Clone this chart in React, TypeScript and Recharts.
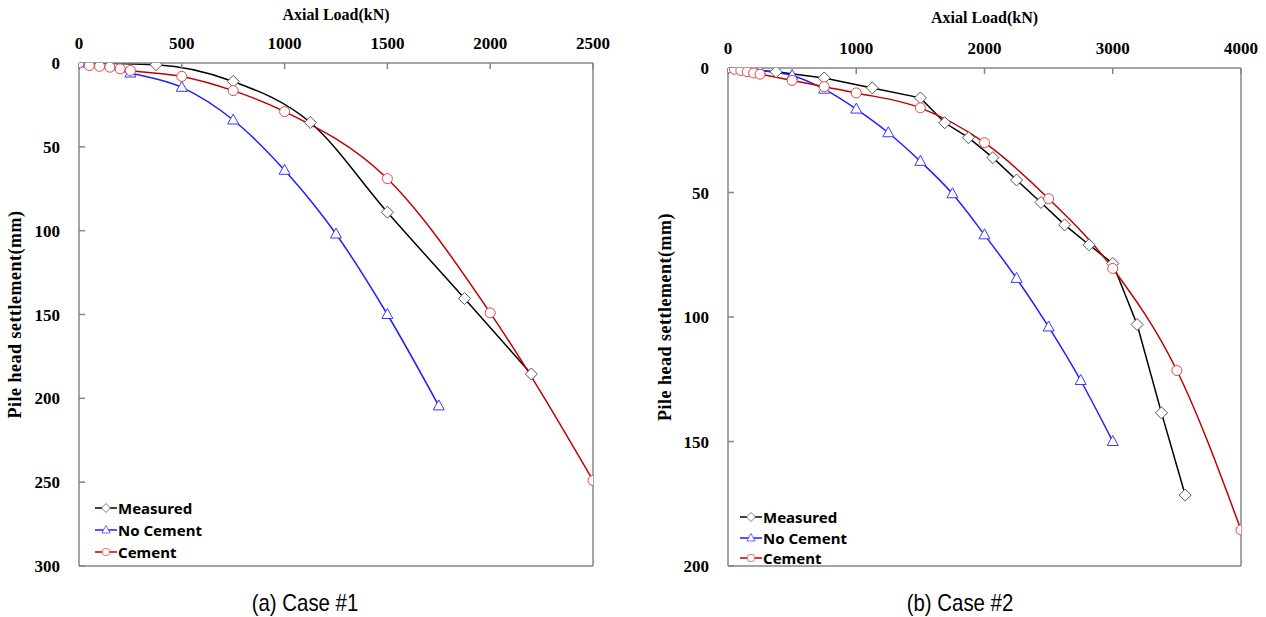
import { Legend, Line, LineChart, ReferenceLine, XAxis, YAxis } from "recharts";

// Case #1 — axial load (kN) vs pile head settlement (mm)
const measured1Load = [0, 375, 750, 1125, 1500, 1875, 2200];
const measured1Settle = [0, 1, 11, 35.5, 89, 140.5, 185.5];
const noCement1Load = [0, 250, 500, 750, 1000, 1250, 1500, 1750];
const noCement1Settle = [0, 6, 14.5, 34, 64, 102, 150, 204.5];
const cement1Load = [0, 50, 100, 150, 200, 250, 500, 750, 1000, 1500, 2000, 2500];
const cement1Settle = [0, 1.5, 2, 2.5, 3.5, 4.5, 8, 16.5, 29, 69, 149, 249];

// Case #2
const measured2Load = [0, 375, 750, 1125, 1500, 1690, 1875, 2065, 2250, 2440, 2625, 2815, 3000, 3190, 3380, 3565];
const measured2Settle = [0, 1.5, 4, 8, 12, 22, 28, 36, 45, 54, 63, 71, 78.5, 103, 138.5, 171.5];
const noCement2Load = [0, 250, 500, 750, 1000, 1250, 1500, 1750, 2000, 2250, 2500, 2750, 3000];
const noCement2Settle = [0, 1, 3, 8.5, 16.5, 26, 37.5, 50.5, 67, 84.5, 104, 125.5, 150];
const cement2Load = [0, 50, 100, 150, 200, 250, 500, 750, 1000, 1500, 2000, 2500, 3000, 3500, 4000];
const cement2Settle = [0, 0.5, 1, 1.5, 2, 2.5, 5, 7.5, 10, 16, 30, 52.5, 80.5, 121.5, 185.5];

const xTicks1 = [0, 500, 1000, 1500, 2000, 2500];
const yTicks1 = [0, 50, 100, 150, 200, 250, 300];
const xTicks2 = [0, 1000, 2000, 3000, 4000];
const yTicks2 = [0, 50, 100, 150, 200];

const seriesOrder = ["Measured", "No Cement", "Cement"];

const zip = (xs: number[], ys: number[]) => xs.map((load, i) => ({ load, s: ys[i] }));

const AXIS = "#868686";
const tickFont = { fontFamily: "Liberation Serif", fontWeight: 700, fontSize: 17, fill: "#000" };
const titleFont = { fontFamily: "Liberation Serif", fontWeight: 700, fontSize: 16, fill: "#000" };

type Marker = "diamond" | "triangle" | "circle";

function MarkerShape({ kind, cx, cy }: { kind: Marker; cx: number; cy: number }) {
  if (kind === "diamond")
    return (
      <path
        d={`M${cx},${cy - 6}L${cx + 6},${cy}L${cx},${cy + 6}L${cx - 6},${cy}Z`}
        fill="#fff"
        stroke="#555"
        strokeWidth={1}
      />
    );
  if (kind === "triangle")
    return (
      <path
        d={`M${cx},${cy - 6}L${cx + 5.5},${cy + 4}L${cx - 5.5},${cy + 4}Z`}
        fill="#fff"
        stroke="#3a3aff"
        strokeWidth={1}
      />
    );
  return <circle cx={cx} cy={cy} r={5} fill="#fff" stroke="#e04848" strokeWidth={1} />;
}

const seriesStyle: Record<string, { color: string; marker: Marker }> = {
  Measured: { color: "#000", marker: "diamond" },
  "No Cement": { color: "#1f1fff", marker: "triangle" },
  Cement: { color: "#c00000", marker: "circle" },
};

function makeLegend(rowHeight: number) {
  return function LegendContent({ payload }: any) {
    const items = [...(payload ?? [])].sort(
      (a: any, b: any) => seriesOrder.indexOf(a.value) - seriesOrder.indexOf(b.value)
    );
    return (
      <div>
        {items.map((entry: any) => {
          const st = seriesStyle[entry.value];
          return (
            <div
              key={entry.value}
              style={{
                display: "flex",
                alignItems: "center",
                height: rowHeight,
                fontFamily: "Noto Sans",
                fontWeight: 700,
                fontSize: 15,
                color: "#000",
                whiteSpace: "nowrap",
              }}
            >
              <svg width={22} height={14} style={{ marginRight: 1 }}>
                <line x1={0} y1={7} x2={22} y2={7} stroke={st.color} strokeWidth={1.5} />
                <g transform="translate(11,7) scale(0.75) translate(-11,-7)">
                  <MarkerShape kind={st.marker} cx={11} cy={7} />
                </g>
              </svg>
              {entry.value}
            </div>
          );
        })}
      </div>
    );
  };
}

interface Series {
  name: string;
  data: { load: number; s: number }[];
  type: "monotone" | "linear";
}

interface CaseProps {
  series: Series[];
  width: number;
  xMax: number;
  xTicks: number[];
  yMax: number;
  yTicks: number[];
  yAxisWidth: number;
  xAxisHeight: number;
  marginRight: number;
  yTitleOffset: number;
  xTitleOffset: number;
  legendLeft: number;
  legendTop: number;
  legendRow: number;
}

function CaseChart(p: CaseProps) {
  return (
    <LineChart
      width={p.width}
      height={617}
      margin={{ top: 0, right: p.marginRight, bottom: 51, left: 0 }}
    >
      <XAxis
        type="number"
        dataKey="load"
        orientation="top"
        domain={[0, p.xMax]}
        ticks={p.xTicks}
        height={p.xAxisHeight}
        allowDataOverflow
        stroke={AXIS}
        strokeWidth={1.5}
        tickSize={-6}
        tickMargin={20}
        tick={tickFont}
        label={{ value: "Axial Load(kN)", position: "insideTop", offset: p.xTitleOffset, style: titleFont }}
      />
      <YAxis
        type="number"
        dataKey="s"
        reversed
        domain={[0, p.yMax]}
        ticks={p.yTicks}
        width={p.yAxisWidth}
        allowDataOverflow
        stroke={AXIS}
        strokeWidth={1.5}
        tickSize={-6}
        tickMargin={25}
        tick={tickFont}
        label={{
          value: "Pile head settlement(mm)",
          angle: -90,
          position: "insideLeft",
          offset: p.yTitleOffset,
          style: { ...titleFont, fontSize: 18, letterSpacing: 0.5, textAnchor: "middle" },
        }}
      />
      <ReferenceLine x={p.xMax} stroke={AXIS} strokeWidth={1.5} />
      <ReferenceLine y={p.yMax} stroke={AXIS} strokeWidth={1.5} />
      {p.series.map((s) => {
        const st = seriesStyle[s.name];
        return (
          <Line
            key={s.name}
            name={s.name}
            data={s.data}
            dataKey="s"
            type={s.type}
            stroke={st.color}
            strokeWidth={1.5}
            isAnimationActive={false}
            dot={(d: any) => <MarkerShape key={`${s.name}-${d.index}`} kind={st.marker} cx={d.cx} cy={d.cy} />}
            activeDot={false}
          />
        );
      })}
      <Legend
        layout="vertical"
        verticalAlign="middle"
        align="center"
        wrapperStyle={{ left: p.legendLeft, top: p.legendTop, width: "auto" }}
        content={makeLegend(p.legendRow)}
      />
    </LineChart>
  );
}

const captionStyle: React.CSSProperties = {
  position: "absolute",
  top: 589,
  fontFamily: "'Liberation Sans', sans-serif",
  fontSize: 24,
  color: "#000",
  transform: "translateX(-50%) scaleX(0.85)",
  whiteSpace: "nowrap",
};

export default function App() {
  return (
    <div style={{ position: "absolute", left: 0, top: 0, width: 1266, height: 617, background: "#fff" }}>
      <div style={{ position: "absolute", left: 0, top: 0 }}>
        <CaseChart
          width={640}
          xMax={2500}
          xTicks={xTicks1}
          yMax={300}
          yTicks={yTicks1}
          yAxisWidth={79}
          xAxisHeight={63}
          marginRight={47}
          yTitleOffset={15}
          xTitleOffset={9}
          legendLeft={95}
          legendTop={497}
          legendRow={22}
          series={[
            { name: "Measured", data: zip(measured1Load, measured1Settle), type: "monotone" },
            { name: "No Cement", data: zip(noCement1Load, noCement1Settle), type: "monotone" },
            { name: "Cement", data: zip(cement1Load, cement1Settle), type: "monotone" },
          ]}
        />
      </div>
      <div style={{ position: "absolute", left: 640, top: 0 }}>
        <CaseChart
          width={626}
          xMax={4000}
          xTicks={xTicks2}
          yMax={200}
          yTicks={yTicks2}
          yAxisWidth={88}
          xAxisHeight={68}
          marginRight={25}
          yTitleOffset={25}
          xTitleOffset={12}
          legendLeft={100}
          legendTop={507}
          legendRow={20.5}
          series={[
            { name: "Measured", data: zip(measured2Load, measured2Settle), type: "linear" },
            { name: "No Cement", data: zip(noCement2Load, noCement2Settle), type: "monotone" },
            { name: "Cement", data: zip(cement2Load, cement2Settle), type: "monotone" },
          ]}
        />
      </div>
      <div style={{ ...captionStyle, left: 305 }}>(a) Case #1</div>
      <div style={{ ...captionStyle, left: 960 }}>(b) Case #2</div>
    </div>
  );
}
